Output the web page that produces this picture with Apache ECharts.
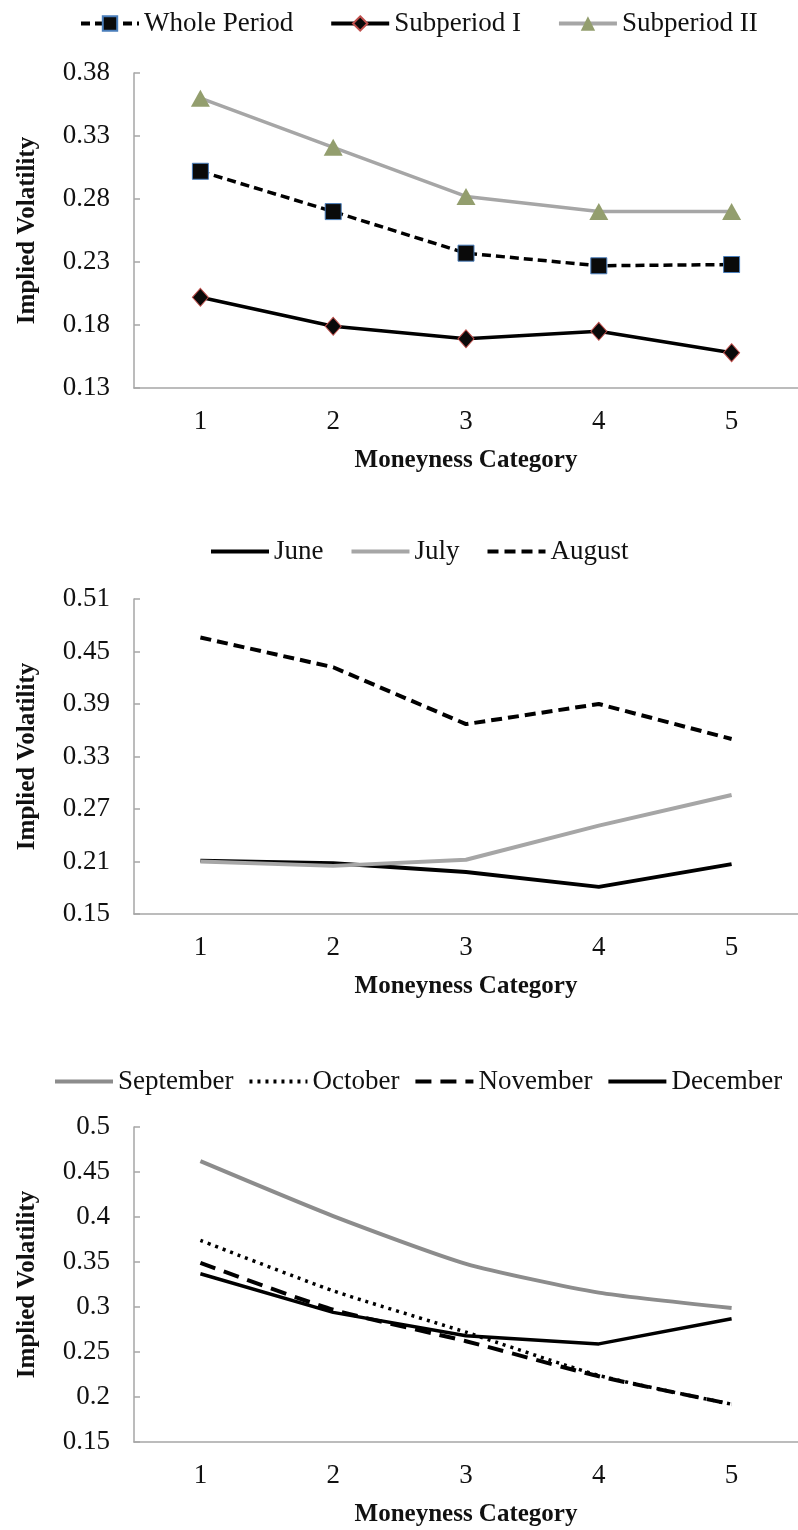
<!DOCTYPE html>
<html>
<head>
<meta charset="utf-8">
<script src="https://cdn.jsdelivr.net/npm/echarts@6/dist/echarts.min.js"></script>
<style>
html,body{margin:0;padding:0;background:#fff;}
#main{width:798px;height:1530px;}
</style>
</head>
<body>
<div id="main"></div>
<script>
// ---- data ----
const categories = ['1', '2', '3', '4', '5'];
// Panel 1
const wholePeriod = [0.302, 0.270, 0.237, 0.227, 0.228];
const subperiodI  = [0.202, 0.179, 0.169, 0.175, 0.158];
const subperiodII = [0.360, 0.321, 0.282, 0.270, 0.270];
// Panel 2
const june   = [0.211, 0.208, 0.198, 0.181, 0.207];
const july   = [0.210, 0.205, 0.212, 0.251, 0.286];
const august = [0.466, 0.432, 0.367, 0.390, 0.350];
// Panel 3
const september = [0.462, 0.401, 0.348, 0.316, 0.299];
const october   = [0.374, 0.318, 0.272, 0.224, 0.192];
const november  = [0.349, 0.297, 0.262, 0.223, 0.192];
const december  = [0.337, 0.294, 0.268, 0.259, 0.287];
// y-axis ranges [min, max, interval]
const yRange1 = [0.13, 0.38, 0.05];
const yRange2 = [0.15, 0.51, 0.06];
const yRange3 = [0.15, 0.50, 0.05];
const xAxisTitle = 'Moneyness Category';
const yAxisTitle = 'Implied Volatility';

// ---- layout ----
const FONT = '"Liberation Serif", "Times New Roman", serif';
const AXIS_COLOR = '#a6a6a6';
const gridTops = [73, 599, 1127];
const GRID_H = 315;

function makeX(i) {
  return {
    type: 'category', gridIndex: i, data: categories, boundaryGap: true,
    axisLine: { lineStyle: { color: AXIS_COLOR, width: 1.5 } },
    axisTick: { inside: true, length: 7, lineStyle: { color: AXIS_COLOR, width: 1.5 } },
    axisLabel: { color: '#111', fontFamily: FONT, fontSize: 27, margin: 20 },
    name: xAxisTitle, nameLocation: 'middle', nameGap: 60,
    nameTextStyle: { color: '#111', fontFamily: FONT, fontSize: 25, fontWeight: 'bold' }
  };
}
function makeY(i, r) {
  return {
    type: 'value', gridIndex: i, min: r[0], max: r[1], interval: r[2],
    splitLine: { show: false },
    axisLine: { show: true, lineStyle: { color: AXIS_COLOR, width: 1.5 } },
    axisTick: { show: true, inside: true, length: 6, lineStyle: { color: AXIS_COLOR, width: 1.5 } },
    axisLabel: { color: '#111', fontFamily: FONT, fontSize: 27, margin: 24 },
    name: yAxisTitle, nameLocation: 'middle', nameGap: 94, nameRotate: 90,
    nameTextStyle: { color: '#111', fontFamily: FONT, fontSize: 25, fontWeight: 'bold' }
  };
}
function makeLegend(names, left, top, gap, itemH, hideSymbol) {
  const lg = {
    data: names, left: left, top: top, itemWidth: 58, itemHeight: itemH, itemGap: gap,
    textStyle: { color: '#111', fontFamily: FONT, fontSize: 27 },
    lineStyle: { width: 4 }
  };
  if (hideSymbol) lg.itemStyle = { opacity: 0 };
  return lg;
}
function line(name, data, i, lineStyle, extra) {
  return Object.assign({
    name: name, type: 'line', data: data, xAxisIndex: i, yAxisIndex: i,
    symbol: 'none', lineStyle: lineStyle, itemStyle: { color: lineStyle.color },
    animation: false
  }, extra || {});
}

const option = {
  backgroundColor: '#fff',
  animation: false,
  grid: gridTops.map(t => ({ left: 134, right: -8, top: t, height: GRID_H })),
  xAxis: [makeX(0), makeX(1), makeX(2)],
  yAxis: [makeY(0, yRange1), makeY(1, yRange2), makeY(2, yRange3)],
  legend: [
    makeLegend(['Whole Period', 'Subperiod I', 'Subperiod II'], 74, 5, 36, 18, false),
    makeLegend(['June', 'July', 'August'], 204, 533, 26, 14, true),
    makeLegend(['September', 'October', 'November', 'December'], 48, 1063, 14, 14, true)
  ],
  series: [
    line('Whole Period', wholePeriod, 0, { color: '#000', width: 3.5, type: [9, 5] }, {
      symbol: 'rect', symbolSize: 16,
      itemStyle: { color: '#0a0a0a', borderColor: '#4a7ebb', borderWidth: 1 }
    }),
    line('Subperiod I', subperiodI, 0, { color: '#000', width: 3.5 }, {
      symbol: 'diamond', symbolSize: [16, 18],
      itemStyle: { color: '#0a0a0a', borderColor: '#c0504d', borderWidth: 1 }
    }),
    line('Subperiod II', subperiodII, 0, { color: '#a6a6a6', width: 3.5 }, {
      symbol: 'triangle', symbolSize: [19, 17],
      itemStyle: { color: '#939e6e', borderColor: '#939e6e', borderWidth: 0 }
    }),
    line('June', june, 1, { color: '#000', width: 4 }),
    line('July', july, 1, { color: '#a6a6a6', width: 4 }),
    line('August', august, 1, { color: '#000', width: 4, type: [11, 6] }),
    line('September', september, 2, { color: '#8c8c8c', width: 4 }, { smooth: 0.2 }),
    line('October', october, 2, { color: '#000', width: 3.5, type: [3, 5] }, { smooth: 0.2 }),
    line('November', november, 2, { color: '#000', width: 4, type: [16, 9] }, { smooth: 0.2 }),
    line('December', december, 2, { color: '#000', width: 3.5 })
  ]
};

const chart = echarts.init(document.getElementById('main'), null, { renderer: 'canvas' });
chart.setOption(option);
</script>
</body>
</html>
